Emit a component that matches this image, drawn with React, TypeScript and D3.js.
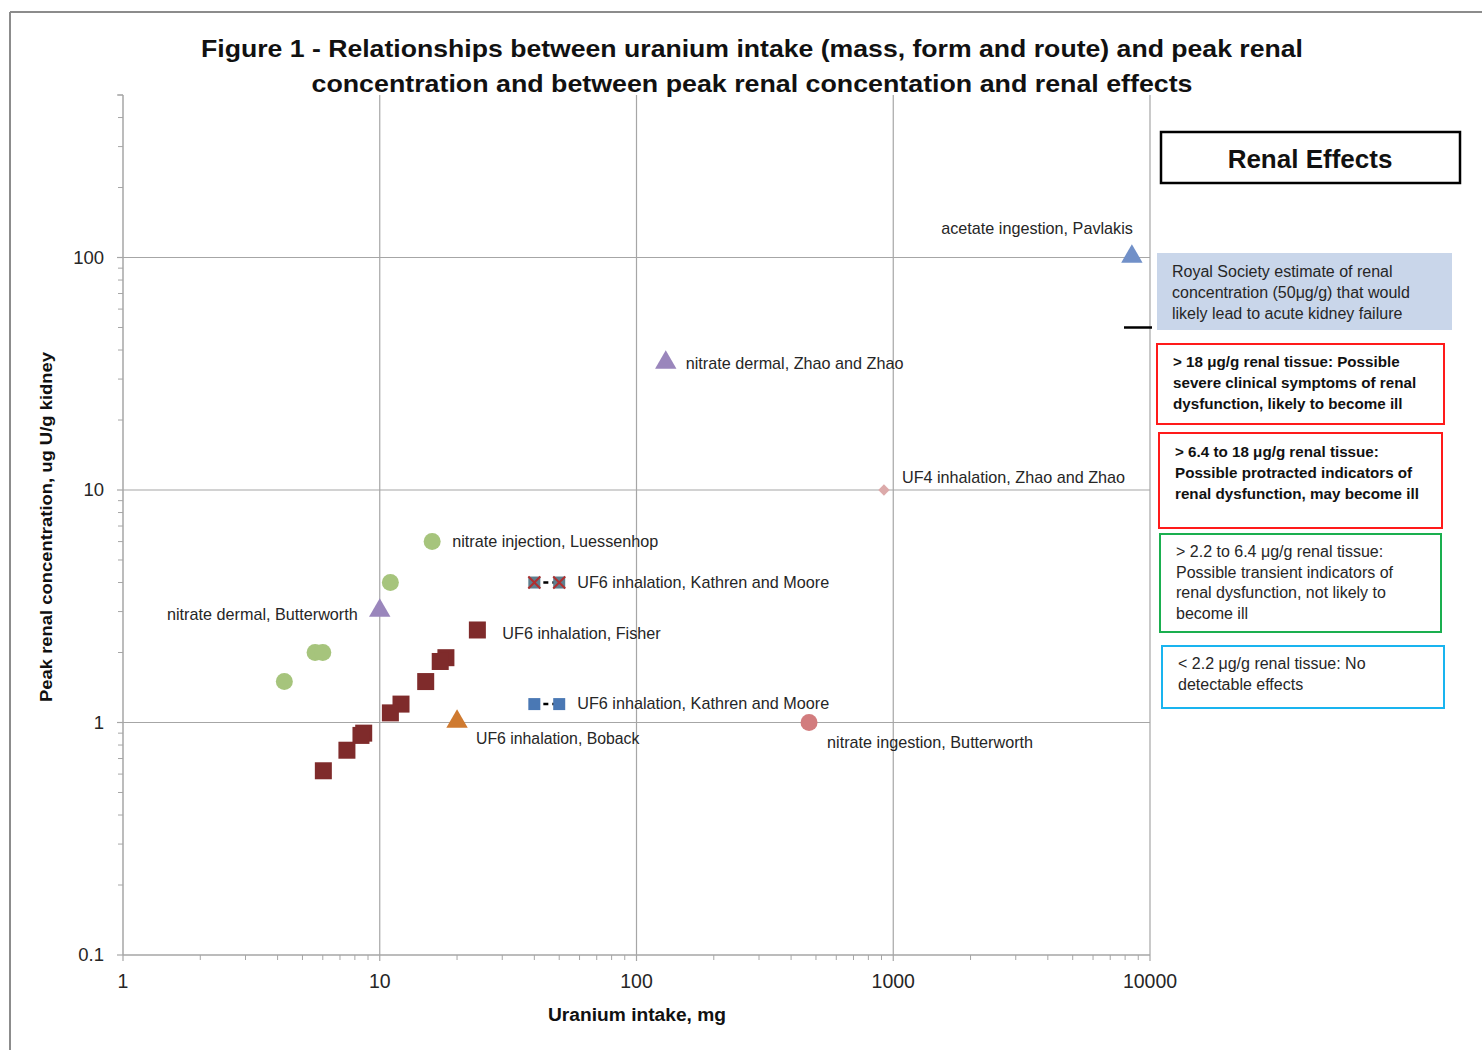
import React from "react";
import * as d3 from "d3";

// ---------- data ----------
const xTicks = [1, 10, 100, 1000, 10000];
const yTicks = [0.1, 1, 10, 100];
const yTickLabels = ["0.1", "1", "10", "100"];
const xTickLabels = ["1", "10", "100", "1000", "10000"];

// nitrate injection, Luessenhop (green circles)
const luessenhopX = [16, 11, 5.6, 6.0, 4.25];
const luessenhopY = [6, 4, 2, 2, 1.5];

// UF6 inhalation, Fisher (dark red squares)
const fisherX = [24, 18.1, 17.2, 15.1, 12.1, 11, 8.66, 8.45, 7.45, 6.03];
const fisherY = [2.5, 1.9, 1.83, 1.5, 1.2, 1.1, 0.9, 0.88, 0.76, 0.62];

// UF6 inhalation, Kathren and Moore (two pairs)
const kathrenX = [40, 50];
const kathrenHighY = [4, 4];
const kathrenLowY = [1.2, 1.2];

// single points
const pavlakis = { x: 8500, y: 100 };
const zhaoDermal = { x: 130, y: 35 };
const butterworthDermal = { x: 10, y: 3 };
const zhaoUF4 = { x: 920, y: 10 };
const butterworthIngestion = { x: 470, y: 1 };
const boback = { x: 20, y: 1 };

const royalSocietyLevel = 50;

const title = [
  "Figure 1 - Relationships between uranium intake (mass, form and route) and peak renal",
  "concentration and between peak renal concentation and renal effects",
];
const xLabel = "Uranium intake, mg";
const yLabel = "Peak renal concentration, ug U/g kidney";

const effectsTitle = "Renal Effects";
const royalText = [
  "Royal Society estimate of renal",
  "concentration (50μg/g) that would",
  "likely lead to acute kidney failure",
];
const box18 = [
  "> 18 μg/g renal tissue: Possible",
  "severe clinical symptoms of renal",
  "dysfunction, likely to become ill",
];
const box64 = [
  "> 6.4 to 18 μg/g renal tissue:",
  "Possible protracted indicators of",
  "renal dysfunction, may become ill",
];
const box22 = [
  "> 2.2 to 6.4 μg/g renal tissue:",
  "Possible transient indicators of",
  "renal dysfunction, not likely to",
  "become ill",
];
const boxLow = ["< 2.2 μg/g renal tissue: No", "detectable effects"];

// ---------- layout ----------
const W = 1482;
const H = 1050;
const FONT = "'Liberation Sans', Arial, sans-serif";
const LABEL_SIZE = 16.2;

const x = d3.scaleLog().domain([1, 10000]).range([123, 1150]);
const y = d3.scaleLog().domain([0.1, 500]).range([955, 95]);

const minorTicks = (lo: number, hi: number) => {
  const out: number[] = [];
  for (let d = lo; d < hi; d *= 10) {
    for (let k = 2; k <= 9; k++) {
      const v = d * k;
      if (v <= hi) out.push(v);
    }
  }
  return out;
};

const GRID = "#a6a6a6";
const TXT = "#262626";

function Tri({ cx, cy, fill, s = 21 }: any) {
  const sym = d3.symbol().type(d3.symbolTriangle).size(s * s * 0.45)();
  return <path d={sym || ""} transform={`translate(${cx},${cy - 1})`} fill={fill} />;
}

function Square({ cx, cy, fill, s = 17 }: any) {
  return <rect x={cx - s / 2} y={cy - s / 2} width={s} height={s} fill={fill} />;
}

function Label({ px, py, dx, dy, text, anchor = "start", size = LABEL_SIZE }: any) {
  return (
    <text x={px + dx} y={py + dy} textAnchor={anchor} fontSize={size} fill={TXT} fontFamily={FONT}>
      {text}
    </text>
  );
}

function Box({ x0, y0, w, h, stroke, fill, lines, bold, tx, ty, lh, size }: any) {
  return (
    <g>
      <rect x={x0} y={y0} width={w} height={h} fill={fill || "white"} stroke={stroke || "none"} strokeWidth={2} />
      {lines.map((l: string, i: number) => (
        <text key={i} x={tx} y={ty + i * lh} fontSize={size} fontWeight={bold ? "bold" : "normal"} fill={bold ? "#111" : TXT} fontFamily={FONT}>
          {l}
        </text>
      ))}
    </g>
  );
}

export default function App() {
  const xMinor = minorTicks(1, 10000);
  const yMinor = minorTicks(0.1, 500);
  const x0 = x(1);
  const y0 = y(0.1);
  const yTop = y(500);
  const xRight = x(10000);

  return (
    <svg width={W} height={H} style={{ position: "absolute", left: 0, top: 0, background: "white" }} fontFamily={FONT}>
      {/* outer frame */}
      <line x1={10} y1={12} x2={W} y2={12} stroke="#8c8c8c" strokeWidth={2} />
      <line x1={10} y1={12} x2={10} y2={H} stroke="#8c8c8c" strokeWidth={2} />

      {/* title */}
      {title.map((t, i) => (
        <text key={i} x={752} y={57 + i * 35} textAnchor="middle" fontSize={24} fontWeight="bold" fill="#111"
          textLength={i === 0 ? 1102 : 881} lengthAdjust="spacingAndGlyphs">
          {t}
        </text>
      ))}

      {/* gridlines */}
      {xTicks.slice(1).map((t) => (
        <line key={"gx" + t} x1={x(t)} x2={x(t)} y1={yTop} y2={y0} stroke={GRID} strokeWidth={1.2} />
      ))}
      {yTicks.slice(1).map((t) => (
        <line key={"gy" + t} x1={x0} x2={xRight} y1={y(t)} y2={y(t)} stroke={GRID} strokeWidth={1.2} />
      ))}

      {/* axes */}
      <line x1={x0} x2={x0} y1={yTop} y2={y0} stroke={GRID} strokeWidth={1.5} />
      <line x1={x0} x2={xRight} y1={y0} y2={y0} stroke={GRID} strokeWidth={1.5} />
      {yMinor.map((t) => (
        <line key={"ym" + t} x1={x0 - 5} x2={x0} y1={y(t)} y2={y(t)} stroke={GRID} strokeWidth={1} />
      ))}
      {yTicks.map((t) => (
        <line key={"yM" + t} x1={x0 - 6} x2={x0} y1={y(t)} y2={y(t)} stroke={GRID} strokeWidth={1.2} />
      ))}
      <line x1={x0 - 6} x2={x0} y1={yTop} y2={yTop} stroke={GRID} strokeWidth={1.2} />
      {xMinor.map((t) => (
        <line key={"xm" + t} x1={x(t)} x2={x(t)} y1={y0} y2={y0 + 5} stroke={GRID} strokeWidth={1} />
      ))}
      {xTicks.map((t) => (
        <line key={"xM" + t} x1={x(t)} x2={x(t)} y1={y0} y2={y0 + 6} stroke={GRID} strokeWidth={1.2} />
      ))}

      {/* tick labels */}
      {yTicks.map((t, i) => (
        <text key={"yl" + t} x={104} y={y(t) + 6} textAnchor="end" fontSize={18.5} fill={TXT}>
          {yTickLabels[i]}
        </text>
      ))}
      {xTicks.map((t, i) => (
        <text key={"xl" + t} x={x(t)} y={988} textAnchor="middle" fontSize={19.5} fill={TXT}>
          {xTickLabels[i]}
        </text>
      ))}

      {/* axis titles */}
      <text x={637} y={1021} textAnchor="middle" fontSize={18} fontWeight="bold" fill="#111" textLength={178} lengthAdjust="spacingAndGlyphs">
        {xLabel}
      </text>
      <text transform={`translate(52,${(352 + 702) / 2}) rotate(-90)`} textAnchor="middle" fontSize={17} fontWeight="bold" fill="#111" textLength={350} lengthAdjust="spacingAndGlyphs">
        {yLabel}
      </text>

      {/* Royal Society marker line */}
      <line x1={1124} x2={1152} y1={y(royalSocietyLevel)} y2={y(royalSocietyLevel)} stroke="#000" strokeWidth={2.5} />

      {/* Kathren and Moore dashed connectors */}
      <line x1={x(kathrenX[0])} x2={x(kathrenX[1])} y1={y(kathrenHighY[0])} y2={y(kathrenHighY[1])} stroke="#000" strokeWidth={2.5} strokeDasharray="5,4" />
      <line x1={x(kathrenX[0])} x2={x(kathrenX[1])} y1={y(kathrenLowY[0])} y2={y(kathrenLowY[1])} stroke="#000" strokeWidth={2.5} strokeDasharray="5,4" />

      {/* green circles */}
      {luessenhopX.map((v, i) => (
        <circle key={"lu" + i} cx={x(v)} cy={y(luessenhopY[i])} r={8.5} fill="#a6c47c" />
      ))}

      {/* Fisher squares */}
      {fisherX.map((v, i) => (
        <Square key={"fi" + i} cx={x(v)} cy={y(fisherY[i])} fill="#7f2b2b" />
      ))}

      {/* Kathren squares */}
      {kathrenX.map((v, i) => (
        <g key={"kh" + i}>
          <Square cx={x(v)} cy={y(kathrenHighY[i])} fill="#5e7f8e" s={12} />
          <line x1={x(v) - 6} x2={x(v) + 6} y1={y(kathrenHighY[i]) - 6} y2={y(kathrenHighY[i]) + 6} stroke="#b03030" strokeWidth={2} />
          <line x1={x(v) - 6} x2={x(v) + 6} y1={y(kathrenHighY[i]) + 6} y2={y(kathrenHighY[i]) - 6} stroke="#b03030" strokeWidth={2} />
        </g>
      ))}
      {kathrenX.map((v, i) => (
        <Square key={"kl" + i} cx={x(v)} cy={y(kathrenLowY[i])} fill="#4a78b4" s={12} />
      ))}

      {/* single markers */}
      <Tri cx={x(pavlakis.x)} cy={y(pavlakis.y)} fill="#7190c8" />
      <Tri cx={x(zhaoDermal.x)} cy={y(zhaoDermal.y)} fill="#9a86bc" />
      <Tri cx={x(butterworthDermal.x)} cy={y(butterworthDermal.y)} fill="#9a86bc" />
      <Tri cx={x(boback.x)} cy={y(boback.y)} fill="#cf7a30" />
      <rect x={x(zhaoUF4.x) - 4} y={y(zhaoUF4.y) - 4} width={8} height={8} fill="#dcaaaa" transform={`rotate(45,${x(zhaoUF4.x)},${y(zhaoUF4.y)})`} />
      <circle cx={x(butterworthIngestion.x)} cy={y(butterworthIngestion.y)} r={8.5} fill="#d27c7e" />

      {/* point labels */}
      <Label px={x(pavlakis.x)} py={y(pavlakis.y)} dx={1} dy={-24} anchor="end" text="acetate ingestion, Pavlakis" />
      <Label px={x(zhaoDermal.x)} py={y(zhaoDermal.y)} dx={20} dy={5} text="nitrate dermal, Zhao and Zhao" />
      <Label px={x(zhaoUF4.x)} py={y(zhaoUF4.y)} dx={18} dy={-7} text="UF4 inhalation, Zhao and Zhao" />
      <Label px={x(16)} py={y(6)} dx={20} dy={5} text="nitrate injection, Luessenhop" />
      <Label px={x(kathrenX[1])} py={y(kathrenHighY[1])} dx={18} dy={5} text="UF6 inhalation, Kathren and Moore" />
      <Label px={x(kathrenX[1])} py={y(kathrenLowY[1])} dx={18} dy={5} text="UF6 inhalation, Kathren and Moore" />
      <Label px={x(butterworthDermal.x)} py={y(butterworthDermal.y)} dx={-22} dy={8} anchor="end" text="nitrate dermal, Butterworth" />
      <Label px={x(fisherX[0])} py={y(fisherY[0])} dx={25} dy={9} text="UF6 inhalation, Fisher" />
      <Label px={x(boback.x)} py={y(boback.y)} dx={19} dy={21} size={15.8} text="UF6 inhalation, Boback" />
      <Label px={x(butterworthIngestion.x)} py={y(butterworthIngestion.y)} dx={18} dy={25} text="nitrate ingestion, Butterworth" />

      {/* Renal effects legend */}
      <rect x={1161} y={132} width={299} height={51} fill="white" stroke="#000" strokeWidth={2.5} />
      <text x={1310} y={168} textAnchor="middle" fontSize={26} fontWeight="bold" fill="#111">
        {effectsTitle}
      </text>
      <Box x0={1157} y0={253} w={295} h={77} fill="#c9d6ea" lines={royalText} tx={1172} ty={277} lh={21} size={16} />
      <Box x0={1157} y0={344} w={287} h={80} stroke="#ff1a1a" lines={box18} bold tx={1173} ty={367} lh={21} size={15.2} />
      <Box x0={1159} y0={433} w={283} h={95} stroke="#ff1a1a" lines={box64} bold tx={1175} ty={457} lh={21} size={15.2} />
      <Box x0={1160} y0={534} w={281} h={98} stroke="#1aaf4f" lines={box22} tx={1176} ty={557} lh={20.7} size={16} />
      <Box x0={1162} y0={646} w={282} h={62} stroke="#19b4ef" lines={boxLow} tx={1178} ty={669} lh={21} size={16} />
    </svg>
  );
}
